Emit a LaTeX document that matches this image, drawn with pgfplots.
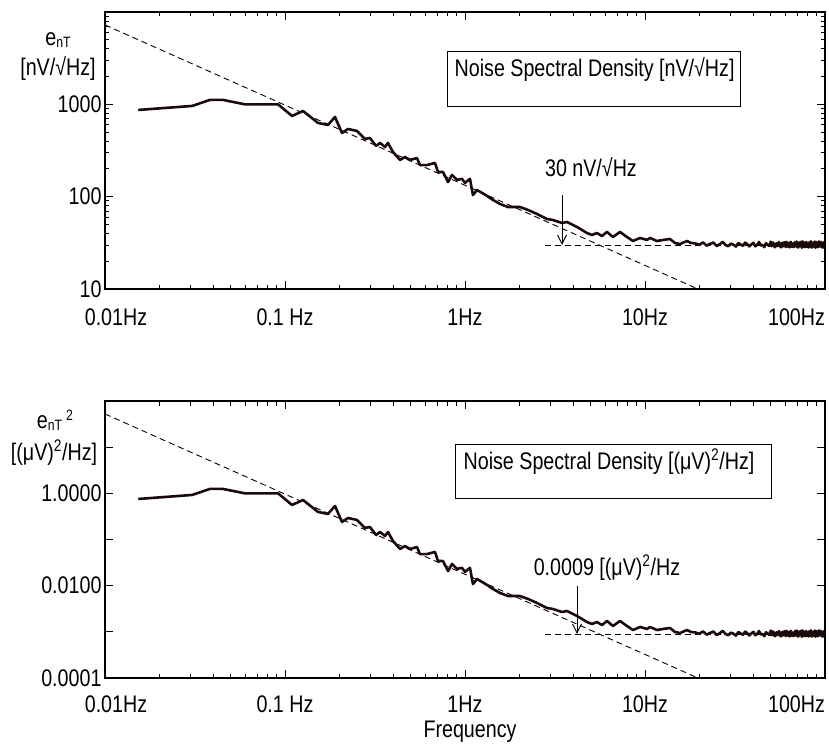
\documentclass[border=0pt]{standalone}
\usepackage{fontspec}
\setmainfont{Liberation Sans}[FakeStretch=0.82]
\usepackage{pgfplots}
\usepackage{pgfplotstable}
\pgfplotsset{compat=1.18}
\usetikzlibrary{arrows.meta}

\pgfplotstableread{
f v
0.0153 869
0.0305 961
0.0383 1116
0.0453 1116
0.0514 1062
0.0599 1000
0.0915 1000
0.1094 748
0.1259 848
0.1431 695
0.1525 629
0.1733 598
0.1896 730
0.2073 490
0.2239 541
0.2512 515
0.278 422
0.2965 432
0.3206 354
0.3373 382
0.3594 345
0.3733 382
0.398 305
0.4356 250
0.4642 269
0.4946 250
0.5412 262
0.5623 220
0.6153 220
0.6813 232
0.7079 185
0.7551 185
0.8054 144
0.8472 172
0.9036 152
0.9624 156
1.0 141
1.066 156
1.107 104
1.166 118
1.243 110
1.324 102
1.431 92.1
1.565 83.4
1.734 77.3
2.02 77.3
2.239 71.8
2.512 65.0
2.856 57.3
3.083 55.9
3.459 51.9
3.687 53.2
4.19 47.0
4.76 40.4
5.08 38.5
5.41 40.4
5.77 37.5
6.15 41.5
6.64 36.6
7.26 41.5
7.94 36.6
8.58 33.1
9.38 35.7
10.26 34.0
10.66 35.7
11.66 33.1
12.59 34.0
13.77 34.8
14.68 31.5
15.65 30.7
17.11 33.1
18.0 31.5
19 31.2
20 30.1
21 32.0
22 29.5
23 30.8
24 31.9
25 29.2
26 30.5
27 32.4
28 30.0
29 29.1
30 31.0
31 30.2
32 28.8
33 31.5
34 30.3
35 29.4
36 31.8
37 30.6
38 28.9
39 30.4
40 31.6
41 29.0
42 30.1
43 32.3
44 29.6
45 30.0
46 28.4
47 31.3
48 30.2
49 29.3
50 32.6
50.5 29.1
51 29.8
51.5 31.9
52 30.7
52.5 28.4
53 28.6
53.5 31.2
54 31.1
54.5 29.3
55 29.9
55.5 32.3
56 30.5
56.5 28.7
57 28.3
57.5 30.9
58 31.7
58.5 29.0
59 29.5
59.5 32.1
60 30.3
60.5 28.5
61 32.5
61.5 29.4
62 28.8
62.5 31.6
63 30.9
63.5 28.2
64 29.7
64.5 32.4
65 31.4
65.5 29.0
66 28.5
66.5 31.0
67 30.2
67.5 28.6
68 32.1
68.5 30.0
69 29.0
69.5 32.7
70 30.6
70.5 28.3
71 28.2
71.5 31.3
72 31.9
72.5 29.1
73 29.4
73.5 32.5
74 30.8
74.5 28.0
75 32.8
75.5 29.6
76 28.7
76.5 31.8
77 30.1
77.5 28.4
78 29.2
78.5 32.2
79 31.6
79.5 28.8
80 28.5
80.5 31.4
81 30.9
81.5 28.1
82 32.2
82.5 29.7
83 29.0
83.5 32.9
84 30.4
84.5 28.2
85 28.3
85.5 31.7
86 31.5
86.5 28.9
87 29.8
87.5 32.6
88 30.7
88.5 28.0
89 32.4
89.5 29.5
90 28.6
90.5 31.9
91 30.0
91.5 28.3
92 31.2
92.5 32.8
93 28.9
93.5 29.4
94 30.6
94.5 32.3
95 32.0
95.5 28.5
96 29.3
96.5 31.5
97 30.5
97.5 28.1
98 28.4
98.5 32.0
99 31.3
99.5 29.2
100 30.1
}\noisedata

\definecolor{curve}{RGB}{28,10,10}
\newcommand{\fs}{\fontsize{24}{28}\selectfont}
\tikzset{
  dline/.style={black, line width=0.9pt, dash pattern=on 6pt off 4pt},
  dat/.style={curve, line width=2.6pt, line join=round},
}

\begin{document}
\begin{tikzpicture}[x=1pt,y=1pt]
\path[use as bounding box] (0,0) rectangle (829,-745);

% top axis
\begin{axis}[
  xmode=log, ymode=log,
  scale only axis, width=720pt, height=277pt,
  xmin=0.01, xmax=100,
  xtick={0.01,0.1,1,10,100},
  xticklabels={\hspace*{22pt}0.01Hz,0.1 Hz,1Hz,10Hz,\makebox[0pt][r]{100Hz}},
  xticklabel style={yshift=-16pt},
  tick align=inside,
  axis line style={line width=1.8pt},
  tick style={black, line width=0.9pt},
  major tick length=8pt, minor tick length=4.5pt,
  tick label style={font=\fs},
  /pgf/number format/assume math mode=true,
  at={(105pt,-289pt)}, anchor=south west,
  ymin=10, ymax=10000,
  ytick={10,100,1000,10000}, yticklabels={10,100,1000,{}},
]
\addplot[dline] coordinates {(0.01,7240) (19.7,10)};
\addplot[dline] coordinates {(2.78,30) (100,30)};
\addplot[dat] table[x=f,y=v] {\noisedata};
\addplot[black, line width=0.9pt, -{Straight Barb[length=9pt,width=9pt]}] coordinates {(3.46,104) (3.46,30)};
\node[font=\fs] at (axis cs:5.01,210) {30 nV/√Hz};
\draw[line width=0.8pt] (rel axis cs:0.476,0.661) rectangle (rel axis cs:0.883,0.856);
\node[font=\fs] at (rel axis cs:0.68,0.791) {Noise Spectral Density [nV/√Hz]};
\end{axis}

% bottom axis
\begin{axis}[
  xmode=log, ymode=log,
  scale only axis, width=720pt, height=277pt,
  xmin=0.01, xmax=100,
  xtick={0.01,0.1,1,10,100},
  xticklabels={\hspace*{22pt}0.01Hz,0.1 Hz,1Hz,10Hz,\makebox[0pt][r]{100Hz}},
  xticklabel style={yshift=-14pt},
  tick align=inside,
  axis line style={line width=1.8pt},
  tick style={black, line width=0.9pt},
  major tick length=8pt, minor tick length=4.5pt,
  tick label style={font=\fs},
  /pgf/number format/assume math mode=true,
  at={(105pt,-678pt)}, anchor=south west,
  ymin=0.0001, ymax=100,
  ytick={0.0001,0.001,0.01,0.1,1,10,100},
  yticklabels={0.0001,{},0.0100,{},1.0000,{},{}},
  yminorticks=false,
]
\addplot[dline] coordinates {(0.01,52.4) (19.7,0.0001)};
\addplot[dline] coordinates {(2.78,0.0009) (100,0.0009)};
\addplot[dat] table[x=f,y expr={\thisrow{v}*\thisrow{v}/1000000}] {\noisedata};
\addplot[black, line width=0.9pt, -{Straight Barb[length=9pt,width=9pt]}] coordinates {(4.19,0.00985) (4.19,0.0009)};
\node[font=\fs] at (axis cs:6.15,0.0242) {0.0009 [(μV)\textsuperscript{2}/Hz};
\draw[line width=0.8pt] (rel axis cs:0.486,0.650) rectangle (rel axis cs:0.925,0.845);
\node[font=\fs] at (rel axis cs:0.70,0.78) {Noise Spectral Density [(μV)\textsuperscript{2}/Hz]};
\end{axis}

% y labels
\node[font=\fs] at (58,-40) {e\raisebox{-0.15ex}{\fontsize{15}{15}\selectfont nT}};
\node[font=\fs] at (58,-68) {[nV/√Hz]};
\node[font=\fs] at (55,-420) {e\raisebox{-0.15ex}{\fontsize{15}{15}\selectfont nT}\,\raisebox{0.6ex}{\fontsize{15}{15}\selectfont 2}};
\node[font=\fs] at (54,-453) {[(μV)\textsuperscript{2}/Hz]};
\node[font=\fs] at (470,-732) {Frequency};
\end{tikzpicture}
\end{document}
